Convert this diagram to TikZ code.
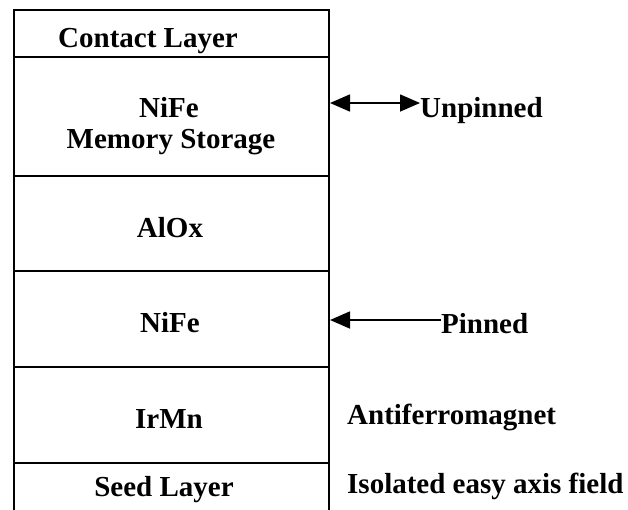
\documentclass[tikz,border=0pt]{standalone}
\usepackage{fontspec}
\setmainfont{Liberation Serif}
\usetikzlibrary{arrows.meta}
\tikzset{mytip/.tip={Triangle[length=20pt,width=17pt]}}
\begin{document}
\begin{tikzpicture}[x=1pt,y=-1pt,
  layer/.style={draw, line width=2pt, minimum width=315pt, inner sep=0pt, anchor=north west},
  txt/.style={anchor=base, inner sep=0pt, font=\fontsize{29}{35}\selectfont\bfseries},
  lbl/.style={anchor=base west, inner sep=0pt, font=\fontsize{29}{35}\selectfont\bfseries},
  arr/.style={line width=1.6pt}]
\useasboundingbox (0,0) rectangle (628,509);
\clip (0,0) rectangle (628,509);
% layers
\node[layer, minimum height=47.5pt] (contact) at (13,8.5) {};
\node[layer, minimum height=119pt] (mem) at (13,56) {};
\node[layer, minimum height=95pt] (alox) at (13,175) {};
\node[layer, minimum height=96pt] (nife) at (13,270) {};
\node[layer, minimum height=96pt] (irmn) at (13,366) {};
\node[layer, minimum height=90pt] (seed) at (13,462) {};
% layer texts
\node[txt] (tcontact) at (148,47) {Contact Layer};
\node[txt] (tmem1) at (169,117) {NiFe};
\node[txt] (tmem2) at (171,148) {Memory Storage};
\node[txt] (talox) at (170,237) {AlOx};
\node[txt] (tnife) at (170,332) {NiFe};
\node[txt] (tirmn) at (169,428) {IrMn};
\node[txt] (tseed) at (164,496) {Seed Layer};
% side labels
\node[lbl] (unp) at (420,117) {Unpinned};
\node[lbl] (pin) at (441,333) {Pinned};
\node[lbl] (afm) at (347,424) {Antiferromagnet};
\node[lbl] (iso) at (347,493) {Isolated easy axis field};
% arrows
\draw[arr, mytip-mytip] (mem.east |- 0,103) -- (unp.west |- 0,103);
\draw[arr, -mytip] (pin.west |- 0,320) -- (nife.east |- 0,320);
\end{tikzpicture}
\end{document}
